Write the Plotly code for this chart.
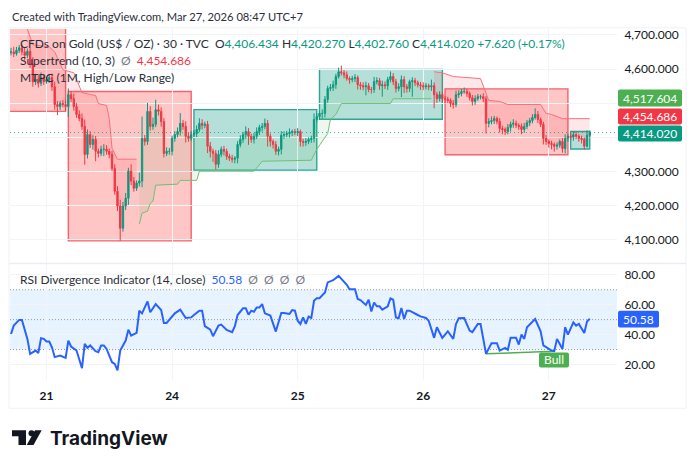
"""
plot.py - 30 minute gold chart with supertrend, range boxes and RSI pane.
Bars are plotted on a plain bar index, the day labels sit on that index.
"""

import plotly.graph_objects as go

WIDTH = 696
HEIGHT = 468
FONT = "Lato"

UP = "#089981"
DOWN = "#F23645"
GRID = "#F2F4F8"
TEXT = "#131722"

DAY_BARS = [13, 59, 105, 151, 197]
DAY_LABELS = ["21", "24", "25", "26", "27"]

PRICE_TICKS = [4100, 4200, 4300, 4400, 4500, 4600, 4700]
PRICE_HIDDEN = [4400, 4500]  # sit behind the badges
RSI_TICKS = [20, 40, 60, 80]

FIRST_OPEN = 4648
CLOSES = [
    4650, 4645, 4655, 4662, 4650, 4640, 4652, 4615, 4563, 4570,
    4558, 4575, 4563, 4569, 4575, 4548, 4496, 4490, 4499, 4496,
    4490, 4525, 4513, 4490, 4467, 4455, 4432, 4350, 4408, 4379,
    4394, 4359, 4353, 4365, 4365, 4359, 4350, 4309, 4242, 4199,
    4134, 4199, 4222, 4301, 4272, 4251, 4266, 4272, 4397, 4388,
    4476, 4432, 4438, 4481, 4476, 4446, 4353, 4359, 4359, 4397,
    4408, 4417, 4441, 4432, 4403, 4397, 4408, 4411, 4423, 4441,
    4435, 4438, 4374, 4359, 4353, 4321, 4350, 4365, 4359, 4344,
    4339, 4336, 4339, 4379, 4394, 4408, 4417, 4403, 4394, 4403,
    4417, 4429, 4432, 4441, 4403, 4388, 4379, 4359, 4365, 4406,
    4408, 4411, 4414, 4417, 4414, 4417, 4388, 4385, 4388, 4394,
    4397, 4452, 4461, 4470, 4470, 4511, 4543, 4546, 4554, 4578,
    4592, 4589, 4583, 4572, 4569, 4572, 4575, 4554, 4551, 4548,
    4551, 4540, 4540, 4563, 4566, 4551, 4554, 4551, 4569, 4578,
    4563, 4543, 4548, 4569, 4548, 4543, 4563, 4566, 4560, 4554,
    4551, 4548, 4551, 4548, 4551, 4525, 4513, 4525, 4513, 4511,
    4508, 4499, 4496, 4525, 4528, 4534, 4534, 4528, 4516, 4505,
    4513, 4519, 4519, 4513, 4441, 4446, 4449, 4455, 4446, 4426,
    4423, 4417, 4429, 4438, 4441, 4435, 4432, 4423, 4432, 4443,
    4449, 4458, 4467, 4452, 4438, 4397, 4388, 4382, 4379, 4374,
    4377, 4388, 4367, 4397, 4403, 4400, 4408, 4403, 4397, 4394,
    4374, 4406.43, 4414.02,
]
WICK_UP = [
    12, 15, 10, 8, 10, 12, 8, 10, 20, 15,
    12, 15, 10, 8, 10, 12, 15, 10, 8, 10,
    12, 18, 10, 15, 10, 12, 15, 20, 15, 10,
    12, 10, 8, 10, 15, 12, 8, 10, 12, 15,
    18, 12, 15, 10, 20, 12, 8, 25, 64, 10,
    25, 15, 20, 29, 15, 12, 10, 12, 10, 8,
    10, 12, 30, 10, 15, 12, 10, 10, 12, 15,
    12, 8, 10, 12, 8, 10, 12, 8, 10, 8,
    8, 10, 6, 10, 12, 8, 15, 10, 8, 10,
    12, 8, 10, 14, 10, 8, 6, 10, 8, 12,
    10, 8, 12, 6, 8, 10, 6, 8, 10, 6,
    8, 18, 10, 8, 12, 10, 8, 10, 12, 8,
    12, 18, 8, 10, 6, 8, 10, 6, 8, 10,
    12, 8, 8, 14, 10, 8, 12, 10, 8, 15,
    10, 8, 10, 12, 10, 8, 6, 10, 8, 6,
    8, 10, 8, 6, 18, 10, 8, 10, 6, 8,
    8, 6, 10, 12, 10, 8, 12, 8, 6, 8,
    10, 8, 6, 10, 8, 10, 12, 8, 6, 10,
    8, 6, 10, 8, 12, 8, 6, 8, 10, 8,
    8, 10, 18, 10, 6, 8, 10, 6, 8, 6,
    8, 6, 10, 12, 8, 6, 10, 8, 6, 8,
    6, 14, 6,
]
WICK_DOWN = [
    8, 10, 6, 8, 10, 15, 8, 12, 15, 10,
    12, 8, 10, 6, 10, 12, 15, 25, 10, 8,
    12, 30, 10, 12, 10, 8, 10, 30, 12, 10,
    15, 29, 12, 8, 20, 10, 12, 8, 10, 15,
    37, 10, 12, 20, 12, 10, 8, 10, 18, 12,
    10, 12, 10, 8, 12, 15, 12, 8, 10, 12,
    10, 8, 12, 10, 18, 10, 8, 6, 10, 8,
    12, 8, 20, 18, 25, 15, 10, 8, 12, 10,
    8, 10, 12, 15, 8, 10, 12, 25, 10, 12,
    8, 10, 12, 8, 30, 15, 12, 10, 12, 15,
    10, 8, 12, 10, 8, 10, 15, 12, 10, 8,
    10, 12, 8, 10, 15, 12, 10, 8, 10, 12,
    6, 8, 10, 6, 12, 8, 10, 14, 12, 10,
    25, 8, 12, 10, 8, 12, 32, 10, 12, 8,
    10, 12, 8, 30, 18, 12, 10, 44, 10, 8,
    12, 10, 8, 10, 12, 40, 12, 8, 10, 12,
    8, 10, 12, 8, 10, 8, 6, 10, 8, 12,
    10, 6, 8, 10, 30, 12, 8, 10, 8, 12,
    14, 10, 8, 12, 10, 8, 10, 14, 10, 8,
    10, 8, 6, 10, 8, 18, 10, 12, 14, 16,
    10, 8, 12, 14, 10, 8, 10, 8, 10, 12,
    10, 4, 8,
]

# box edges as bar index / price: red, red, teal, teal, red, teal
BOX_LEFT = [-2, 21, 67, 113, 159, 205]
BOX_RIGHT = [20, 66, 112, 158, 204, 212]
BOX_TOP = [4730, 4534, 4481, 4599, 4542, 4417]
BOX_BOTTOM = [4476, 4097, 4304, 4453, 4349, 4366]
BOX_BULL = [False, False, True, True, False, True]

ST_RED1_BARS = [6, 8, 14, 16, 19, 23, 26, 31, 32, 35, 36, 37, 39, 46]
ST_RED1 = [4717, 4671, 4665, 4650, 4598, 4589, 4531, 4522, 4499, 4493, 4455, 4368, 4336, 4336]
ST_GREEN_BARS = [47, 48, 50, 51, 52, 53, 61, 62, 68, 69, 89, 92, 110, 112, 116, 117, 119, 121, 139, 140, 154]
ST_GREEN = [4146, 4178, 4184, 4207, 4213, 4260, 4263, 4274, 4274, 4301, 4301, 4330, 4333, 4365, 4411, 4452, 4467, 4499, 4499, 4513, 4513]
ST_RED2_BARS = [155, 158, 162, 168, 172, 175, 179, 182, 194, 196, 198, 202, 212]
ST_RED2 = [4592, 4589, 4578, 4575, 4572, 4508, 4505, 4496, 4496, 4470, 4467, 4454.686, 4454.686]

RSI_BARS = [
    0, 1, 3, 4, 6, 7, 9, 10, 11, 12, 13, 14, 15, 16, 18, 20, 21, 22, 24, 26,
    27, 28, 29, 31, 32, 33, 34, 35, 37, 38, 39, 40, 42, 43, 44, 46, 47, 48, 50, 51,
    53, 55, 56, 57, 60, 62, 64, 66, 67, 69, 70, 71, 73, 74, 76, 77, 79, 81, 82, 83,
    85, 86, 87, 88, 89, 90, 91, 92, 93, 95, 97, 99, 100, 102, 103, 104, 105, 106, 107, 108,
    109, 110, 111, 112, 113, 115, 116, 118, 120, 122, 123, 124, 126, 127, 128, 130, 131, 132, 133, 134,
    135, 136, 138, 139, 140, 141, 142, 143, 144, 145, 146, 149, 150, 152, 153, 155, 156, 158, 160, 162,
    163, 164, 166, 168, 169, 171, 172, 174, 176, 178, 179, 181, 182, 183, 185, 186, 187, 188, 189, 192,
    194, 195, 198, 199, 200, 202, 203, 204, 206, 207, 208, 210, 211, 212,
]
RSI_VALUES = [
    40.4, 46, 49.8, 49.8, 37.1, 27.1, 29.3, 27.6, 37.6, 37.1, 35.3, 35.3, 31.5, 24.9, 26, 24.4, 36, 32, 29.3, 17.5,
    33.8, 31.1, 32.7, 28.9, 28.2, 32.7, 32.7, 30.4, 21.5, 20.4, 16, 29.3, 36, 43.3, 39.3, 41.1, 56, 54.2, 62.2, 54.9,
    60.4, 56.4, 47.8, 47.8, 54.2, 56.7, 51.1, 51.5, 53.1, 56, 56, 45.6, 43.3, 38.9, 46, 46.7, 43.1, 41.6, 45.6, 53.1,
    57.6, 57.6, 53.3, 56, 55.3, 58.2, 58.2, 60.4, 54.2, 52.7, 42, 54.4, 54.4, 53.8, 56.4, 56, 49.3, 47.1, 51.5, 47.1,
    52, 51.1, 62.6, 64.4, 64.4, 68.2, 74.9, 76.4, 79.3, 75.6, 73.3, 70.4, 70.4, 63.8, 63.1, 59.8, 63.3, 55.5, 61.5, 58.9,
    58.9, 56.7, 58.9, 64.2, 63.3, 51.5, 50.9, 57.8, 50.4, 56, 56, 53.1, 52.2, 51.1, 49.3, 37.8, 44.9, 37.8, 42.2, 37.1,
    47.1, 50.9, 51.1, 42.7, 41.6, 47.1, 47.1, 27.1, 34.2, 34.2, 29.3, 31.1, 29.8, 37.8, 37.8, 33.3, 40, 37.1, 44.9, 50.4,
    42.2, 32.7, 29.3, 28.9, 37.1, 30.4, 44.9, 40, 48.2, 46, 47.1, 41.1, 48.7, 50.58,
]
BULL_BARS = [174, 199]
BULL_RSI = [27.1, 28.9]

LAST_PRICE = 4414.02


def px(x):
    return x / WIDTH


def py(y):
    return 1 - y / HEIGHT


def label(text, x, y, size=12, color="#2A2E39"):
    return dict(
        text=text, x=px(x), y=py(y), xref="paper", yref="paper",
        xanchor="left", yanchor="middle", showarrow=False,
        font=dict(family=FONT, size=size, color=color),
    )


def badge_text(text, x0, x1, y0, y1):
    return dict(
        text=text, x=px((x0 + x1) / 2), y=py((y0 + y1) / 2), xref="paper", yref="paper",
        xanchor="center", yanchor="middle", showarrow=False,
        font=dict(family=FONT, size=12, color="white"),
    )


def badge_shape(x0, x1, y0, y1, color, r=2):
    # rounded rectangle, the bezier corners keep it close to the original labels
    path = (
        f"M {px(x0 + r):.5f},{py(y0):.5f} L {px(x1 - r):.5f},{py(y0):.5f} "
        f"Q {px(x1):.5f},{py(y0):.5f} {px(x1):.5f},{py(y0 + r):.5f} "
        f"L {px(x1):.5f},{py(y1 - r):.5f} Q {px(x1):.5f},{py(y1):.5f} {px(x1 - r):.5f},{py(y1):.5f} "
        f"L {px(x0 + r):.5f},{py(y1):.5f} Q {px(x0):.5f},{py(y1):.5f} {px(x0):.5f},{py(y1 - r):.5f} "
        f"L {px(x0):.5f},{py(y0 + r):.5f} Q {px(x0):.5f},{py(y0):.5f} {px(x0 + r):.5f},{py(y0):.5f} Z"
    )
    return dict(type="path", xref="paper", yref="paper", path=path,
                fillcolor=color, line=dict(width=0))


def paper_path(points, color):
    path = "M " + " L ".join(f"{px(x):.5f},{py(y):.5f}" for x, y in points) + " Z"
    return dict(type="path", xref="paper", yref="paper", path=path,
                fillcolor=color, line=dict(width=0))


bars = list(range(len(CLOSES)))
opens = [FIRST_OPEN] + CLOSES[:-1]
highs = [max(o, c) + w for o, c, w in zip(opens, CLOSES, WICK_UP)]
lows = [min(o, c) - w for o, c, w in zip(opens, CLOSES, WICK_DOWN)]
mids = [(o + c) / 2 for o, c in zip(opens, CLOSES)]

fig = go.Figure()


def add_supertrend(st_bars, st_values, line_color, fill_color):
    first, last = st_bars[0], st_bars[-1]
    fig.add_trace(go.Scatter(
        x=bars[first:last + 1], y=mids[first:last + 1], mode="lines",
        line=dict(width=0), hoverinfo="skip",
    ))
    fig.add_trace(go.Scatter(
        x=st_bars, y=st_values, mode="lines", fill="tonexty", fillcolor=fill_color,
        line=dict(color=line_color, width=1), hoverinfo="skip",
    ))


add_supertrend(ST_RED1_BARS, ST_RED1, "#F7727C", "rgba(242,54,69,0.12)")
add_supertrend(ST_GREEN_BARS, ST_GREEN, "#72BF76", "rgba(76,175,80,0.10)")
add_supertrend(ST_RED2_BARS, ST_RED2, "#F7727C", "rgba(242,54,69,0.12)")

fig.add_trace(go.Candlestick(
    x=bars, open=opens, high=highs, low=lows, close=CLOSES,
    increasing=dict(line=dict(color=UP, width=1), fillcolor=UP),
    decreasing=dict(line=dict(color=DOWN, width=1), fillcolor=DOWN),
    whiskerwidth=0, hoverinfo="skip",
))

fig.add_trace(go.Scatter(
    x=BULL_BARS, y=BULL_RSI, xaxis="x2", yaxis="y2", mode="lines",
    line=dict(color="#4CAF50", width=1.5), hoverinfo="skip",
))
fig.add_trace(go.Scatter(
    x=RSI_BARS, y=RSI_VALUES, xaxis="x2", yaxis="y2", mode="lines",
    line=dict(color="#2962FF", width=2), hoverinfo="skip",
))

shapes = []
for left, right, top, bottom, bull in zip(BOX_LEFT, BOX_RIGHT, BOX_TOP, BOX_BOTTOM, BOX_BULL):
    shapes.append(dict(
        type="rect", xref="x", yref="y", layer="below",
        x0=left, x1=right, y0=bottom, y1=top,
        fillcolor="rgba(8,153,129,0.30)" if bull else "rgba(255,82,82,0.33)",
        line=dict(color="#2FA596" if bull else "#F7626E", width=1.4),
    ))

shapes.append(dict(type="rect", xref="paper", yref="y2", layer="below",
                   x0=px(10), x1=px(617), y0=30, y1=70,
                   fillcolor="rgba(33,150,243,0.11)", line=dict(width=0)))
for level in [30, 50, 70]:
    shapes.append(dict(type="line", xref="paper", yref="y2", layer="below",
                       x0=px(10), x1=px(617), y0=level, y1=level,
                       line=dict(color="#9598A1", width=1, dash="1px,2px")))
shapes.append(dict(type="line", xref="paper", yref="y", layer="above",
                   x0=px(10), x1=px(617), y0=LAST_PRICE, y1=LAST_PRICE,
                   line=dict(color="rgba(8,153,129,0.75)", width=1, dash="1px,3px")))

# outer frame and pane separator
shapes.append(dict(type="rect", xref="paper", yref="paper", layer="below",
                   x0=px(9), x1=px(686), y0=py(408), y1=py(26),
                   line=dict(color="#EFF1F5", width=1)))
shapes.append(dict(type="line", xref="paper", yref="paper", layer="below",
                   x0=px(9), x1=px(686), y0=py(262.5), y1=py(262.5),
                   line=dict(color="#EBEDF2", width=1.5)))

# value labels
shapes.append(badge_shape(618, 682, 88, 105, "#4CAF50"))
shapes.append(badge_shape(618, 682, 107, 123, DOWN))
shapes.append(badge_shape(618, 682, 124, 140, UP))
shapes.append(badge_shape(618, 659, 310, 327, "#2962FF"))
shapes.append(badge_shape(539, 569, 352, 367, "#4CAF50"))

# logo mark
shapes.append(paper_path([(12, 430), (26, 430), (26, 445), (18.5, 445), (18.5, 436), (12, 436)], "#131722"))
shapes.append(paper_path([(35, 430), (41.7, 430), (33.5, 445), (26.7, 445)], "#131722"))
shapes.append(dict(type="circle", xref="paper", yref="paper",
                   x0=px(28.5), x1=px(34.5), y0=py(436), y1=py(430),
                   fillcolor="#131722", line=dict(width=0)))

UP_SPAN = f'<span style="color:{UP}">'
annotations = [
    label("Created with TradingView.com, Mar 27, 2026 08:47 UTC+7", 10, 15, size=11.2),
    label(
        "CFDs on Gold (US$ / OZ) · 30 · TVC  "
        f"O{UP_SPAN}4,406.434</span> H{UP_SPAN}4,420.270</span> "
        f"L{UP_SPAN}4,402.760</span> C{UP_SPAN}4,414.020</span> "
        f"{UP_SPAN}+7.620 (+0.17%)</span>",
        18, 42,
    ),
    label(f'Supertrend (10, 3)  <span style="color:#787B86">Ø</span>  '
          f'<span style="color:{DOWN}">4,454.686</span>', 18, 59),
    label("MTPC (1M, High/Low Range)", 18, 76),
    label('RSI Divergence Indicator (14, close)  <span style="color:#2962FF">50.58</span>'
          '  <span style="color:#787B86">Ø  Ø  Ø  Ø</span>', 18, 279),
    badge_text("4,517.604", 618, 682, 88, 105),
    badge_text("4,454.686", 618, 682, 107, 123),
    badge_text("4,414.020", 618, 682, 124, 140),
    badge_text("50.58", 618, 659, 310, 327),
    badge_text("Bull", 539, 569, 352, 367),
    dict(text="<b>TradingView</b>", x=px(48), y=py(438), xref="paper", yref="paper",
         xanchor="left", yanchor="middle", showarrow=False,
         font=dict(family="Inter", size=19, color="#131722")),
]

price_labels = ["" if t in PRICE_HIDDEN else f"{t:,.3f}" for t in PRICE_TICKS]
rsi_labels = [f"{t:.2f}" for t in RSI_TICKS]
day_labels = [f"<b>{d}</b>" for d in DAY_LABELS]

common_x = dict(
    range=[-0.37, 221.98], showgrid=True, gridcolor=GRID, gridwidth=1, zeroline=False,
    tickvals=DAY_BARS, showline=False, fixedrange=True,
)
common_y = dict(
    side="right", showgrid=True, gridcolor=GRID, gridwidth=1, zeroline=False,
    showline=False, ticks="outside", ticklen=4, tickcolor="rgba(0,0,0,0)",
    tickfont=dict(family=FONT, size=12, color=TEXT), fixedrange=True,
)

fig.update_layout(
    width=WIDTH,
    height=HEIGHT,
    autosize=False,
    showlegend=False,
    paper_bgcolor="white",
    plot_bgcolor="white",
    margin=dict(l=0, r=0, t=0, b=0),
    xaxis=dict(domain=[px(10), px(617)], anchor="y", showticklabels=False,
               rangeslider=dict(visible=False), **common_x),
    xaxis2=dict(domain=[px(10), px(617)], anchor="y2", ticktext=day_labels,
                ticks="outside", ticklen=4, tickcolor="rgba(0,0,0,0)",
                tickfont=dict(family=FONT, size=12, color=TEXT), **common_x),
    yaxis=dict(domain=[py(262), py(27)], range=[4032.5, 4717.5], anchor="x",
               tickvals=PRICE_TICKS, ticktext=price_labels, **common_y),
    yaxis2=dict(domain=[py(380), py(263)], range=[9.33, 87.33], anchor="x2",
                tickvals=RSI_TICKS, ticktext=rsi_labels, **common_y),
    shapes=shapes,
    annotations=annotations,
)

fig.write_html("out.html", config={"displayModeBar": False},
               post_script="document.body.style.margin='0';")
